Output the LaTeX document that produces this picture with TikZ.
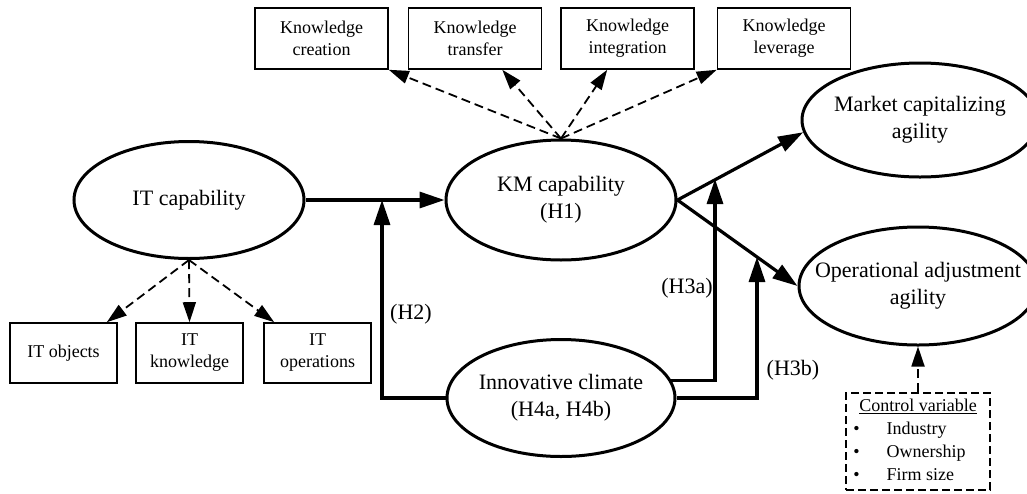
\documentclass[tikz,border=0pt]{standalone}
\usepackage{fontspec}
\setmainfont{Liberation Serif}
\usetikzlibrary{shapes.geometric,arrows.meta}
\newcommand{\elltxt}[1]{\makebox[0pt]{\begin{tabular}{@{}c@{}}#1\end{tabular}}}

\begin{document}
\begin{tikzpicture}[x=1pt,y=-1pt,
  every node/.style={inner sep=0pt},
  ell/.style={draw,ellipse,line width=3pt,font=\fontsize{22}{27}\selectfont},
  kbox/.style={draw,line width=1.6pt,minimum width=133pt,minimum height=61pt,align=center,font=\fontsize{18}{22}\selectfont},
  itbox/.style={kbox,minimum width=107pt,minimum height=60pt},
  ctrlbox/.style={draw,line width=1.6pt,dash pattern=on 8pt off 4pt,minimum width=144pt,minimum height=97pt,font=\fontsize{18}{23}\selectfont},
  hlab/.style={font=\fontsize{22}{26}\selectfont},
  solidarr/.style={line width=3.2pt,-{Triangle[length=25pt,width=16pt]}},
  dasharr/.style={line width=1.8pt,dash pattern=on 9pt off 5pt,-{Triangle[length=20pt,width=13pt]}}]
\useasboundingbox (0,0) rectangle (1027,493);

\foreach \n/\x/\t in {kcr/321.5/{Knowledge\\creation},ktr/475/{Knowledge\\transfer},kin/627.5/{Knowledge\\integration},klv/784/{Knowledge\\leverage}}
  \node[kbox] (\n) at (\x,38.5) {\t};
\foreach \n/\x/\t in {itob/63.5/{IT objects},itkn/189.5/{IT\\knowledge},itop/317.5/{IT\\operations}}
  \node[itbox] (\n) at (\x,353) {\t};

\node[ell,minimum width=230pt,minimum height=117pt] (itc) at (189,200) {\elltxt{IT capability}};
\node[ell,minimum width=230pt,minimum height=120pt] (kmc) at (561,200) {\elltxt{KM capability\\(H1)}};
\node[ell,minimum width=228pt,minimum height=117pt] (inc) at (561,398) {\elltxt{Innovative climate\\(H4a, H4b)}};
\node[ell,minimum width=236pt,minimum height=114pt] (mkt) at (920,120) {\elltxt{Market capitalizing\\agility}};
\node[ell,minimum width=238pt,minimum height=118pt] (opa) at (918,286) {\elltxt{Operational adjustment\\agility}};

\node[ctrlbox] (ctrl) at (918,441.5) {\begin{tabular}{@{}l@{\hspace{27pt}}l@{}}
  \multicolumn{2}{c}{\underline{Control variable}}\\
  \textbullet & Industry\\
  \textbullet & Ownership\\
  \textbullet & Firm size
\end{tabular}};

\node[hlab] (lh2) at (411,314) {(H2)};
\node[hlab] (lh3a) at (687,288) {(H3a)};
\node[hlab] (lh3b) at (793,370) {(H3b)};

\coordinate (h2j) at (382,200);
\coordinate (h3aj) at (715,179);
\coordinate (h3bj) at (757,257);

\draw[solidarr] (itc) -- (kmc);
\draw[solidarr] (inc.west) -| (h2j);
\draw[solidarr] (kmc.east) -- (mkt.186);
\draw[solidarr] (kmc.east) -- (opa.west);
\draw[solidarr] (inc.9) -| (h3aj);
\draw[solidarr] (inc.east) -| (h3bj);

\draw[dasharr] (kmc.north) -- (kcr.south east);
\draw[dasharr] (kmc.north) -- ([xshift=-40pt]ktr.south east);
\draw[dasharr] (kmc.north) -- ([xshift=47pt]kin.south west);
\draw[dasharr] (kmc.north) -- (klv.south west);
\draw[dasharr] (itc.south) -- ([xshift=-11pt]itob.north east);
\draw[dasharr] (itc.south) -- (itkn.north);
\draw[dasharr] (itc.south) -- ([xshift=11pt]itop.north west);
\draw[dasharr] (ctrl.north) -- (opa.south);
\end{tikzpicture}
\end{document}
